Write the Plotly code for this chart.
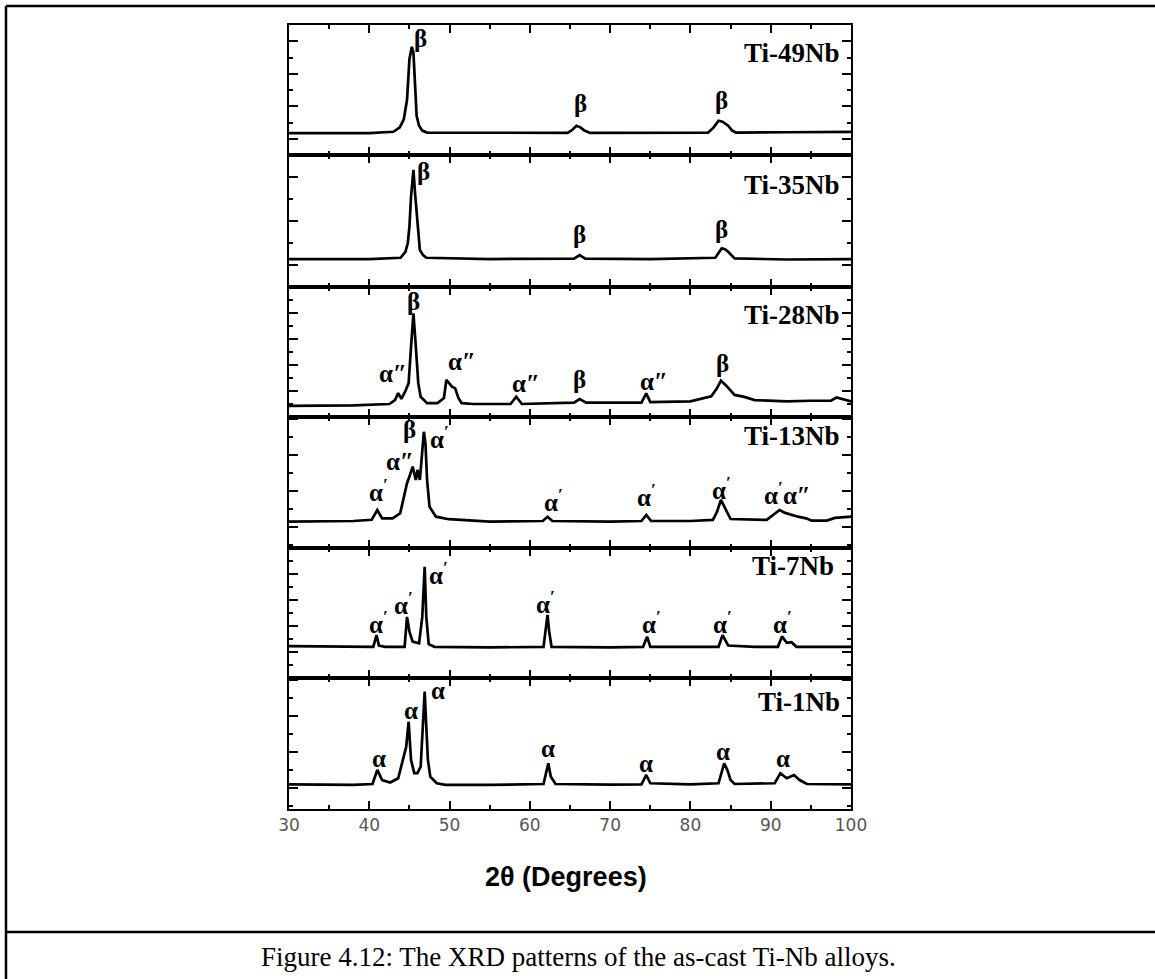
import plotly.graph_objects as go
from plotly.subplots import make_subplots

W, H = 1155, 979

# ---- XRD patterns: 2-theta (deg) and intensity (a.u., per-panel scale) ----
ti49_x = [30, 35, 40, 43.0, 43.8, 44.3, 44.7, 45.0, 45.3, 45.5, 45.7, 45.9, 46.2, 46.6, 47.2, 55,
          64.7, 65.3, 65.8, 66.3, 66.8, 67.5, 75, 82.2, 82.9, 83.5, 84.0, 84.7, 85.2, 85.7, 92, 100]
ti49_y = [1.34, 1.34, 1.34, 1.43, 1.7, 2.2, 3.4, 5.9, 6.66, 6.3, 4.4, 2.4, 1.8, 1.5, 1.38, 1.36,
          1.36, 1.55, 1.8, 1.7, 1.5, 1.36, 1.36, 1.38, 1.7, 2.11, 2.05, 1.8, 1.5, 1.38, 1.4, 1.42]

ti35_x = [30, 40, 43.9, 44.5, 44.8, 45.0, 45.2, 45.5, 45.7, 46.0, 46.3, 46.7, 47.1, 55, 65.5, 66.2,
          66.9, 75, 83.1, 83.6, 83.9, 84.3, 84.7, 85.5, 92, 100]
ti35_y = [1.27, 1.27, 1.33, 1.6, 2.0, 2.74, 4.1, 5.32, 4.26, 2.74, 1.68, 1.45, 1.33, 1.27, 1.29, 1.45,
          1.29, 1.27, 1.33, 1.6, 1.76, 1.72, 1.6, 1.3, 1.25, 1.27]

ti28_x = [30, 38, 42.5, 43.2, 43.6, 44.0, 44.5, 44.9, 45.2, 45.5, 45.8, 46.1, 46.4, 47.2, 48.5, 49.3,
          49.6, 50.0, 50.3, 50.7, 51.1, 51.5, 53, 57.6, 58.3, 59.0, 62, 65.5, 66.2, 67, 73.9, 74.5,
          75.0, 80, 82.6, 83.3, 83.8, 84.4, 85.5, 86.7, 88, 92, 95, 97.5, 98.2, 100]
ti28_y = [0.85, 0.9, 1.0, 1.3, 1.84, 1.4, 2.0, 2.6, 5.4, 7.97, 5.4, 2.6, 1.56, 1.07, 1.07, 1.46,
          2.85, 2.5, 2.33, 2.2, 1.46, 1.07, 1.0, 1.0, 1.56, 1.0, 1.05, 1.1, 1.38, 1.1, 1.1, 1.82,
          1.15, 1.2, 1.6, 2.2, 2.8, 2.45, 1.7, 1.55, 1.3, 1.2, 1.25, 1.25, 1.5, 1.2]

ti13_x = [30, 38, 40.3, 41.0, 41.6, 42.9, 43.85, 44.7, 45.0, 45.4, 45.8, 46.0, 46.3, 46.6, 46.8, 47.0,
          47.2, 47.5, 48.3, 49.9, 55, 61.6, 62.2, 62.8, 70, 73.9, 74.5, 75.1, 80, 82.8, 83.3, 83.8,
          84.3, 85.0, 89.5, 90.3, 91.1, 91.8, 92.6, 93.4, 94.4, 95.1, 97, 98, 100]
ti13_y = [1.3, 1.33, 1.4, 1.94, 1.48, 1.48, 1.76, 3.43, 3.8, 4.35, 3.61, 4.17, 3.61, 5.09, 6.29, 5.6,
          3.61, 2.13, 1.57, 1.43, 1.3, 1.33, 1.57, 1.33, 1.3, 1.33, 1.67, 1.33, 1.33, 1.39, 1.83, 2.5,
          2.06, 1.44, 1.39, 1.67, 1.94, 1.78, 1.67, 1.57, 1.48, 1.35, 1.35, 1.5, 1.57]

ti7_x = [30, 38, 40.5, 40.9, 41.2, 42, 44.4, 44.7, 45.0, 45.4, 46.2, 46.6, 46.9, 47.1, 47.4, 48.1,
         55, 61.7, 62.0, 62.2, 62.4, 62.7, 70, 74.1, 74.6, 75.0, 80, 83.5, 84.0, 84.7, 88, 90.9,
         91.4, 92.0, 92.6, 93.2, 96, 100]
ti7_y = [2.45, 2.4, 2.4, 3.3, 2.5, 2.4, 2.4, 4.7, 3.56, 2.8, 2.67, 4.7, 8.56, 4.7, 2.6, 2.4,
         2.35, 2.4, 4.08, 4.85, 3.6, 2.4, 2.35, 2.4, 3.18, 2.4, 2.4, 2.4, 3.3, 2.5, 2.4, 2.4,
         3.2, 2.7, 2.75, 2.4, 2.4, 2.4]

ti1_x = [30, 38, 40.4, 41.0, 41.6, 42.6, 43.6, 44.2, 44.6, 44.9, 45.2, 45.6, 46.0, 46.4, 46.7, 46.9,
         47.1, 47.3, 47.6, 48.4, 49.5, 55, 61.7, 62.3, 62.6, 63.2, 70, 73.9, 74.5, 75.0, 80, 83.5,
         84.2, 84.6, 85.0, 85.5, 90.5, 91.2, 92.0, 92.9, 93.6, 94.5, 100]
ti1_y = [1.2, 1.17, 1.22, 2.0, 1.44, 1.3, 1.54, 2.56, 3.29, 4.68, 2.56, 1.82, 1.82, 2.18, 4.41, 6.35,
         4.41, 2.56, 1.63, 1.26, 1.17, 1.17, 1.22, 2.37, 1.63, 1.22, 1.18, 1.2, 1.72, 1.26, 1.2, 1.26,
         2.37, 2.0, 1.44, 1.22, 1.26, 1.82, 1.54, 1.72, 1.44, 1.22, 1.2]

# ---- phase labels: 2-theta, height, text ----
ti49_lab_x = [46.4, 66.3, 83.9]
ti49_lab_y = [7.18, 3.2, 3.38]
ti49_lab_t = ["β", "β", "β"]

ti35_lab_x = [46.8, 66.2, 83.9]
ti35_lab_y = [5.24, 2.4, 2.6]
ti35_lab_t = ["β", "β", "β"]

ti28_lab_x = [42.9, 45.5, 51.5, 59.5, 66.2, 75.5, 84.0]
ti28_lab_y = [3.36, 8.87, 4.25, 2.6, 2.85, 2.7, 4.13]
ti28_lab_t = ["α″", "β", "α″", "α″", "β", "α″", "β"]

ti13_lab_x = [41.2, 43.85, 45.0, 48.7, 62.9, 74.5, 83.9, 92.1]
ti13_lab_y = [3.06, 4.63, 6.39, 6.0, 2.5, 2.78, 3.17, 2.89]
ti13_lab_t = ["α<sup>′</sup>", "α″", "β", "α<sup>′</sup>", "α<sup>′</sup>", "α<sup>′</sup>",
              "α<sup>′</sup>", "α<sup>′</sup>α″"]

ti7_lab_x = [41.1, 44.2, 48.6, 61.9, 75.1, 84.0, 91.5]
ti7_lab_y = [4.33, 5.75, 8.05, 5.87, 4.33, 4.33, 4.33]
ti7_lab_t = ["α<sup>′</sup>"] * 7

ti1_lab_x = [41.2, 45.2, 48.5, 62.3, 74.5, 84.0, 91.5]
ti1_lab_y = [2.65, 5.33, 6.44, 3.2, 2.37, 3.0, 2.65]
ti1_lab_t = ["α"] * 7

alloy_names = ["Ti-49Nb", "Ti-35Nb", "Ti-28Nb", "Ti-13Nb", "Ti-7Nb", "Ti-1Nb"]
x_ticks = [30, 40, 50, 60, 70, 80, 90, 100]

patterns = [
    (ti49_x, ti49_y, ti49_lab_x, ti49_lab_y, ti49_lab_t),
    (ti35_x, ti35_y, ti35_lab_x, ti35_lab_y, ti35_lab_t),
    (ti28_x, ti28_y, ti28_lab_x, ti28_lab_y, ti28_lab_t),
    (ti13_x, ti13_y, ti13_lab_x, ti13_lab_y, ti13_lab_t),
    (ti7_x, ti7_y, ti7_lab_x, ti7_lab_y, ti7_lab_t),
    (ti1_x, ti1_y, ti1_lab_x, ti1_lab_y, ti1_lab_t),
]

# panel layout (pixel rows) and per-panel intensity scales
panel_edges = [25, 155, 287, 417, 548, 678, 809]
y_ranges = [[0, 8], [0, 6], [0, 10], [-0.17, 7.11], [0, 10], [-0.17, 7.11]]
y_major0 = [1, 1, 0, 1, 0, 1]
name_y = [53, 185, 315, 436, 566, 702]
name_right = [842, 842, 842, 842, 836, 842]

X0, X1 = 289, 851


def px(x):
    return x / W


def py(y):
    return 1 - y / H


fig = make_subplots(rows=6, cols=1, shared_xaxes=True, vertical_spacing=0)

serif = "Liberation Serif, Times New Roman, serif"
sans = "Liberation Sans, Arial, sans-serif"

for i, (xs, ys, lx, ly, lt) in enumerate(patterns):
    r = i + 1
    fig.add_trace(go.Scatter(x=xs, y=ys, mode="lines",
                             line=dict(color="black", width=2.7),
                             showlegend=False, hoverinfo="skip"), row=r, col=1)
    suffix = "" if r == 1 else str(r)
    for xv, yv, tv in zip(lx, ly, lt):
        fig.add_annotation(x=xv, y=yv, xref="x" + suffix, yref="y" + suffix,
                           text="<b>%s</b>" % tv, showarrow=False,
                           font=dict(family=serif, size=25, color="black"),
                           xanchor="center", yanchor="middle")
    fig.add_annotation(x=px(name_right[i]), y=py(name_y[i]), xref="paper", yref="paper",
                       text="<b>%s</b>" % alloy_names[i], showarrow=False,
                       font=dict(family=serif, size=27, color="black"),
                       xanchor="right", yanchor="middle")

    top, bot = panel_edges[i], panel_edges[i + 1]
    fig.update_yaxes(row=r, col=1, domain=[py(bot), py(top)], range=y_ranges[i],
                     showticklabels=False, showgrid=False, zeroline=False,
                     showline=True, linecolor="black", linewidth=2, mirror="allticks",
                     ticks="inside", ticklen=9, tickwidth=1.6, tickcolor="black",
                     tick0=y_major0[i], dtick=2,
                     minor=dict(ticks="inside", ticklen=4, tickwidth=1.6, tickcolor="black",
                                tick0=0, dtick=1, showgrid=False))
    fig.update_xaxes(row=r, col=1, domain=[px(X0), px(X1)], range=[30, 100],
                     showgrid=False, zeroline=False,
                     showline=True, linecolor="black", linewidth=2, mirror="allticks",
                     ticks="inside", ticklen=8, tickwidth=1.6, tickcolor="black",
                     tickvals=x_ticks, showticklabels=(r == 6),
                     tickfont=dict(family="DejaVu Sans, Verdana, sans-serif", size=17, color="#555"),
                     minor=dict(ticks="inside", ticklen=4, tickwidth=1.6, tickcolor="black",
                                tick0=30, dtick=5, showgrid=False))

# axis title and caption
fig.add_annotation(x=px(566), y=py(877), xref="paper", yref="paper",
                   text="<b>2θ (Degrees)</b>", showarrow=False,
                   font=dict(family=sans, size=27, color="black"),
                   xanchor="center", yanchor="middle")
fig.add_annotation(x=px(578), y=py(957), xref="paper", yref="paper",
                   text="Figure 4.12: The XRD patterns of the as-cast Ti-Nb alloys.",
                   showarrow=False, font=dict(family=serif, size=27, color="black"),
                   xanchor="center", yanchor="middle")

# table-style frame around the figure
frame = dict(type="line", xref="paper", yref="paper", line=dict(color="black", width=2.5))
fig.add_shape(x0=px(6), x1=1, y0=py(6), y1=py(6), **frame)
fig.add_shape(x0=px(6), x1=px(6), y0=py(6), y1=0, **frame)
fig.add_shape(x0=px(6), x1=1, y0=py(932), y1=py(932), **frame)

fig.update_layout(width=W, height=H, autosize=False,
                  margin=dict(l=0, r=0, t=0, b=0, pad=0, autoexpand=False),
                  paper_bgcolor="white", plot_bgcolor="white", showlegend=False)

fig.write_html("out.html", config={"responsive": False})
